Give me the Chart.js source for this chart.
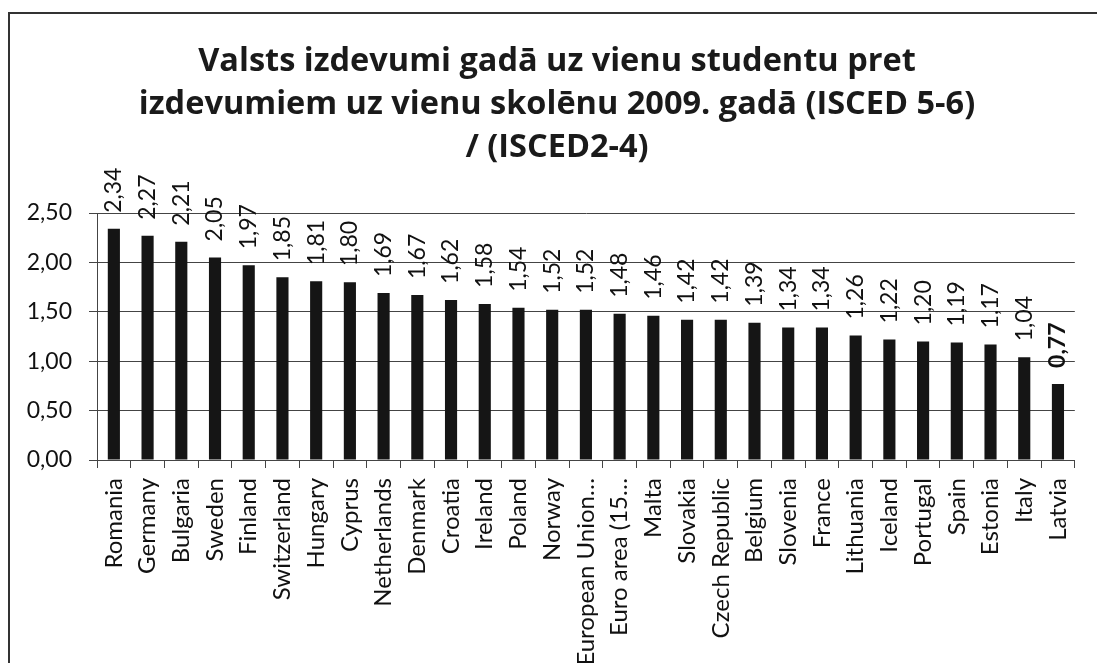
<!DOCTYPE html>
<html>
<head>
<meta charset="utf-8">
<script src="https://cdn.jsdelivr.net/npm/chart.js@4.4.1/dist/chart.umd.min.js"></script>
<style>
  html, body { margin: 0; padding: 0; background: #fff; overflow: hidden; width: 1097px; height: 663px; }
  #frame { position: absolute; left: 8px; top: 12px; width: 1200px; height: 800px;
           border-left: 2px solid #333; border-top: 2px solid #333; }
  #c { position: absolute; left: 0; top: 0; }
</style>
</head>
<body>
<div id="frame"></div>
<canvas id="c" width="1097" height="663"></canvas>
<script>
const titleLines = [
  'Valsts izdevumi gadā uz vienu studentu pret',
  'izdevumiem uz vienu skolēnu 2009. gadā (ISCED 5-6)',
  '/ (ISCED2-4)'
];
const countries = [
  'Romania', 'Germany', 'Bulgaria', 'Sweden', 'Finland', 'Switzerland', 'Hungary',
  'Cyprus', 'Netherlands', 'Denmark', 'Croatia', 'Ireland', 'Poland', 'Norway',
  'European Union…', 'Euro area (15…', 'Malta', 'Slovakia', 'Czech Republic',
  'Belgium', 'Slovenia', 'France', 'Lithuania', 'Iceland', 'Portugal', 'Spain',
  'Estonia', 'Italy', 'Latvia'
];
const ratios = [
  2.34, 2.27, 2.21, 2.05, 1.97, 1.85, 1.81, 1.80, 1.69, 1.67, 1.62, 1.58, 1.54, 1.52,
  1.52, 1.48, 1.46, 1.42, 1.42, 1.39, 1.34, 1.34, 1.26, 1.22, 1.20, 1.19, 1.17, 1.04, 0.77
];
const yTicks = [0, 0.5, 1.0, 1.5, 2.0, 2.5];

const fmt = v => v.toFixed(2).replace('.', ',');
const FONT = 'Lato, "Open Sans", sans-serif';
const TITLE_FONT = '"Open Sans", Lato, sans-serif';
const TITLE_SIZE = 32.5;

// centre the title block on the chart frame (Excel centres it in the frame, not the canvas)
const titleCentre = {
  id: 'titleCentre',
  afterLayout(chart) {
    const t = chart.titleBlock;
    if (t) { t.left = 31; t.right = 1083; }
  }
};

const valueLabels = {
  id: 'valueLabels',
  afterDatasetsDraw(chart) {
    const ctx = chart.ctx;
    const meta = chart.getDatasetMeta(0);
    meta.data.forEach((bar, i) => {
      ctx.save();
      ctx.translate(bar.x, bar.y - 16);
      ctx.rotate(-Math.PI / 2);
      ctx.fillStyle = '#111';
      ctx.font = (countries[i] === 'Latvia' ? 'bold ' : '') + '23px ' + FONT;
      ctx.textAlign = 'left';
      ctx.textBaseline = 'middle';
      ctx.fillText(fmt(ratios[i]), 0, 0);
      ctx.restore();
    });
  }
};

new Chart(document.getElementById('c'), {
  type: 'bar',
  data: {
    labels: countries,
    datasets: [{
      data: ratios,
      backgroundColor: '#151515',
      borderWidth: 0,
      categoryPercentage: 1.0,
      barPercentage: 0.36
    }]
  },
  options: {
    responsive: false,
    devicePixelRatio: 1,
    animation: false,
    layout: { padding: { left: 0, right: 14, top: 0, bottom: 0 } },
    plugins: {
      legend: { display: false },
      tooltip: { enabled: false },
      title: {
        display: true,
        text: titleLines,
        color: '#1a1a1a',
        font: { family: TITLE_FONT, size: TITLE_SIZE, weight: 'bold', lineHeight: 43 / TITLE_SIZE },
        padding: { top: 40, bottom: 44 }
      }
    },
    scales: {
      x: {
        offset: true,
        grid: { display: true, drawOnChartArea: false, drawTicks: true, tickLength: 8, color: '#444', offset: true },
        border: { display: true, color: '#444', width: 1 },
        ticks: {
          autoSkip: false, minRotation: 90, maxRotation: 90,
          padding: 10, color: '#111',
          font: { family: FONT, size: 24 }
        },
        afterFit(scale) { scale.height = 203; }
      },
      y: {
        min: 0, max: 2.5,
        afterBuildTicks(scale) { scale.ticks = yTicks.map(v => ({ value: v })); },
        grid: { color: '#444', lineWidth: 1, tickLength: 8, drawTicks: true },
        border: { display: true, color: '#444', width: 1 },
        ticks: {
          padding: 17, color: '#111',
          font: { family: FONT, size: 23 },
          callback: v => fmt(v)
        },
        afterFit(scale) { scale.width = 97; }
      }
    }
  },
  plugins: [titleCentre, valueLabels]
});
</script>
</body>
</html>
